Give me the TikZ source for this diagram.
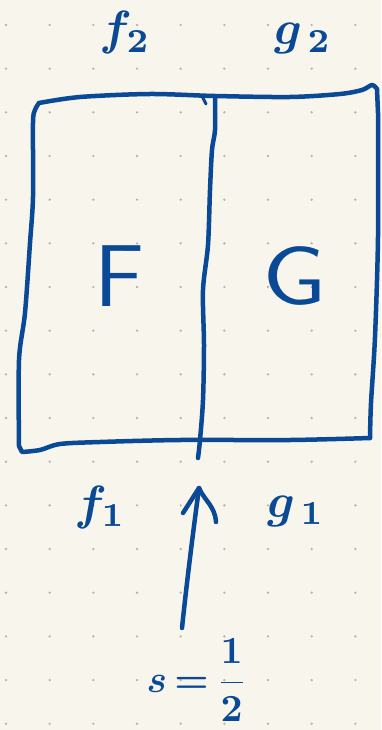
\documentclass[tikz,border=0pt]{standalone}
\usepackage{amsmath}
\definecolor{paper}{RGB}{248,246,236}
\definecolor{ink}{RGB}{10,73,150}
\definecolor{dotc}{RGB}{182,180,172}
\tikzset{
  pen/.style={draw=ink, line width=4.5pt, line cap=round, line join=round},
  lbl/.style={text=ink, inner sep=0pt, scale=4.8, font=\boldmath},
  big/.style={text=ink, inner sep=0pt, font=\sffamily},
}
\begin{document}
\begin{tikzpicture}[x=1pt,y=-1pt]
\fill[paper] (0,0) rectangle (381,730);
\useasboundingbox (0,0) rectangle (381,730);
% dot grid
\foreach \i in {0,...,8}
  \foreach \j in {0,...,16}
    \fill[dotc] ({6+43.67*\i},{25+43.67*\j}) circle (1.3);
% outer box: top + right
\draw[pen] plot[smooth, tension=0.5] coordinates {(39,103) (80,97) (150,94) (215,96) (290,97) (340,94) (362,90) (372,85) (377,89)}
  -- plot[smooth, tension=0.5] coordinates {(378,113) (378,237) (375,337) (371,403) (370,438)};
% bottom + left
\draw[pen] plot[smooth, tension=0.5] coordinates {(370,438) (290,440) (180,440) (100,442) (60,444) (40,450) (22,452)}
  -- plot[smooth, tension=0.5] coordinates {(19,446) (19,360) (25,313) (30,243) (33,197) (33,123) (35,110) (39,103)};
% divider
\draw[pen] plot[smooth, tension=0.5] coordinates {(215,97) (215,130) (212,150) (210,190) (208,245) (203,290) (204,345) (203,400) (200,440) (198,458)};
\draw[pen, line width=3pt] (202,96) -- (206,104);
% labels
\node[big, scale=8.8] (F) at (120,276) {F};
\node[big, xscale=9.6, yscale=8.2] (G) at (295,276) {G};
\node[lbl] (f2) at (125,33) {$f_2$};
\node[lbl] (g2) at (303,39) {$g_{\,2}$};
\node[lbl] (f1) at (100,507) {$f_1$};
\node[lbl] (g1) at (296,511) {$g_{\,1}$};
\node[lbl, scale=0.8] (s) at (197,680) {$s\,{=}\,\dfrac{1}{2}$};
% arrow
\coordinate (tail) at (182,628);
\coordinate (tip) at (199,488);
\draw[pen] (tail) .. controls (187,580) and (194,525) .. (tip);
\draw[pen] (183,513) -- (tip) .. controls (204,500) and (215,506) .. (216,522);
\end{tikzpicture}
\end{document}
